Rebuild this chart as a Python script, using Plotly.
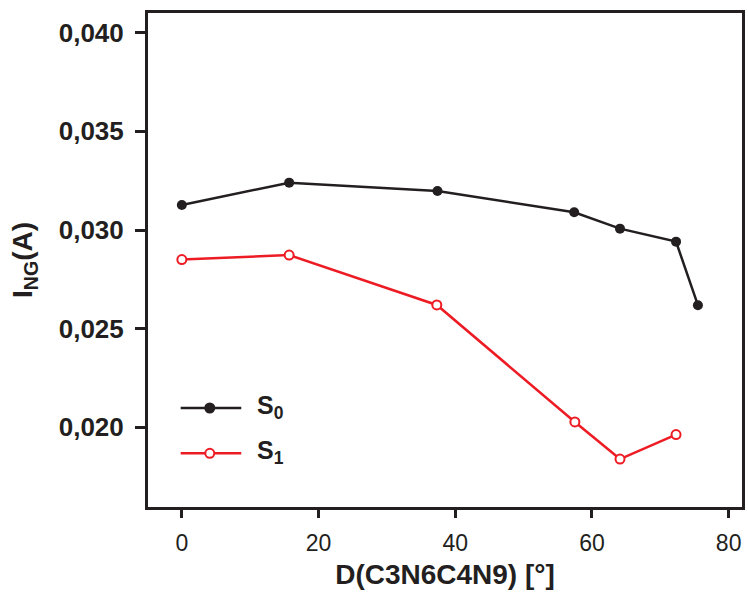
import plotly.graph_objects as go

# Dihedral angle D(C3N6C4N9) in degrees and the current I_NG in amperes
angle_s0 = [0.0, 15.7, 37.4, 57.4, 64.1, 72.3, 75.5]
current_s0 = [0.03127, 0.03240, 0.03198, 0.03090, 0.03007, 0.02941, 0.02619]

angle_s1 = [0.0, 15.7, 37.3, 57.5, 64.1, 72.3]
current_s1 = [0.02850, 0.02873, 0.02620, 0.02027, 0.01839, 0.01963]

series_names = ["S<sub>0</sub>", "S<sub>1</sub>"]
x_ticks = [0, 20, 40, 60, 80]
y_ticks = [0.020, 0.025, 0.030, 0.035, 0.040]

INK = "#231f20"
RED = "#ed1c24"
FONT = "Liberation Sans, Arial, sans-serif"

fig = go.Figure()
fig.add_trace(go.Scatter(
    x=angle_s0, y=current_s0, mode="lines+markers", name=series_names[0],
    line=dict(color=INK, width=2.5),
    marker=dict(symbol="circle", size=10, color=INK, line=dict(width=0)),
    showlegend=False,
))
fig.add_trace(go.Scatter(
    x=angle_s1, y=current_s1, mode="lines+markers", name=series_names[1],
    line=dict(color=RED, width=2.5),
    marker=dict(symbol="circle", size=9, color="white", line=dict(color=RED, width=2)),
    showlegend=False,
))

# Hand-drawn legend: a line with a marker glyph and a label for each series
legend_rows = [(0.2004, INK, INK), (0.1087, RED, "white")]
for (ypos, col, fill), label in zip(legend_rows, series_names):
    fig.add_shape(type="line", xref="paper", yref="paper",
                  x0=0.055, x1=0.157, y0=ypos, y1=ypos,
                  line=dict(color=col, width=2.5))
    fig.add_shape(type="circle", xref="paper", yref="paper",
                  xsizemode="pixel", ysizemode="pixel",
                  xanchor=0.104, yanchor=ypos, x0=-4.5, x1=4.5, y0=-4.5, y1=4.5,
                  fillcolor=fill, line=dict(color=col, width=2))
    fig.add_annotation(xref="paper", yref="paper", x=0.180, y=ypos + 0.003,
                       xanchor="left", yanchor="middle", showarrow=False,
                       text="<b>" + label.replace("<sub>", "<sub><b>").replace("</sub>", "</b></sub>") + "</b>",
                       font=dict(family=FONT, size=25, color=INK))

fig.update_layout(
    width=748, height=604,
    margin=dict(l=148, r=3, t=13, b=97),
    paper_bgcolor="white", plot_bgcolor="white",
    separators=",.",
    font=dict(family=FONT, color=INK),
)
fig.update_xaxes(
    range=[-4.95, 81.95], tickvals=x_ticks, ticks="outside", ticklen=8, tickwidth=2.5,
    tickcolor=INK, showline=True, linecolor=INK, linewidth=3, mirror=True,
    showgrid=False, zeroline=False,
    tickfont=dict(family=FONT, size=23, color=INK), ticklabelstandoff=5,
    title=dict(text="<b>D(C3N6C4N9) [°]</b>", font=dict(family=FONT, size=28, color=INK), standoff=10),
)
fig.update_yaxes(
    range=[0.01596, 0.0410], tickvals=y_ticks, tickformat=".3f", ticks="outside", ticklen=10, tickwidth=2.5,
    tickcolor=INK, showline=True, linecolor=INK, linewidth=3, mirror=True,
    showgrid=False, zeroline=False,
    tickfont=dict(family=FONT, size=26, color=INK, weight="bold"), ticklabelstandoff=6,
    title=dict(text="<b>I<sub><b>NG</b></sub>(A)</b>", font=dict(family=FONT, size=28, color=INK), standoff=18),
)

fig.write_html("out.html")
